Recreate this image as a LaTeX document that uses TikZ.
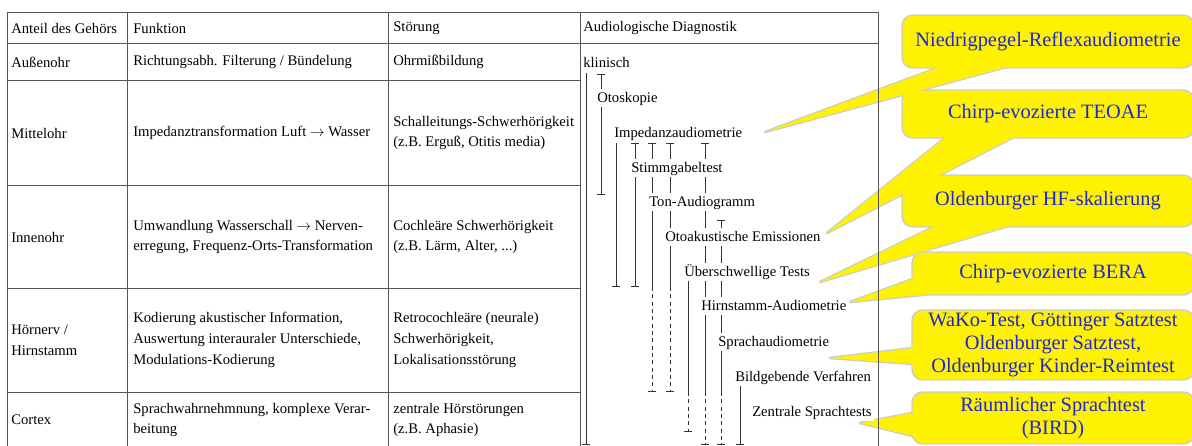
\documentclass[tikz,border=0pt]{standalone}
\usepackage{fontspec}
\setmainfont{Liberation Serif}
\usepackage{xcolor}
\usepackage{tikz}
\usetikzlibrary{positioning, arrows.meta, calc, backgrounds}

\definecolor{gridgray}{RGB}{85,85,85}
\definecolor{rimgray}{RGB}{205,205,205}
\definecolor{bubbleblue}{RGB}{30,40,205}

\begin{document}
\begin{tikzpicture}[
  x=0.75pt, y=-0.75pt,
  every node/.style={font=\fontsize{11}{15.5}\selectfont},
  cellt/.style={anchor=west, align=left, inner sep=0pt},
  diag/.style={anchor=west, fill=white, inner xsep=1.5pt, inner ysep=1.5pt,
               text height=8.5pt, text depth=2.5pt},
  gridline/.style={draw=gridgray, line width=0.7pt},
  durline/.style={draw=black!80, line width=0.6pt},
  dashdur/.style={durline, dash pattern=on 3pt off 2.5pt},
  topbar/.style={{Bar[width=5.5pt]}-},
  endbar/.style={-{Bar[width=5.5pt]}},
  bothbar/.style={{Bar[width=5.5pt]}-{Bar[width=5.5pt]}},
  bubble/.style={rectangle, rounded corners=8pt, fill=yellow, draw=rimgray,
                 line width=1.1pt, inner sep=0pt, align=center, text=bubbleblue,
                 font=\fontsize{15.3}{17}\selectfont},
  wedgerim/.style={fill=yellow, draw=rimgray, line width=2pt, line join=round},
  wedgefill/.style={fill=yellow}
]
\useasboundingbox (0,0) rectangle (1192,446);
% ── Table grid ─────────────────────────────────
\draw[gridline] (7,12) -- (878,12);
\draw[gridline] (7,43) -- (878,43);
\foreach \y in {80,185,288,392} \draw[gridline] (7,\y) -- (580,\y);
\foreach \x in {7,127,388,580} \draw[gridline] (\x,12) -- (\x,446);
% ── Header ─────────────────────────────────────
\node[cellt] (hpart) at (11,28) {Anteil des Gehörs};
\node[cellt] (hfunc) at (133,28) {Funktion};
\node[cellt] (hfail) at (393,28) {Störung};
\node[cellt] (hdiag) at (583,28) {Audiologische Diagnostik};
% ── Rows ───────────────────────────────────────
\node[cellt] (outer) at (11,62) {Außenohr};
\node[cellt] (outerf) at (133,62) {Richtungsabh. Filterung / Bündelung};
\node[cellt] (outers) at (393,62) {Ohrmißbildung};
\node[cellt] (middle) at (11,133) {Mittelohr};
\node[cellt] (middlef) at (133,133) {Impedanztransformation Luft $\rightarrow$ Wasser};
\node[cellt] (middles) at (393,133) {Schalleitungs-Schwerhörigkeit\\(z.B. Erguß, Otitis media)};
\node[cellt] (inner) at (11,237) {Innenohr};
\node[cellt] (innerf) at (133,237) {Umwandlung Wasserschall $\rightarrow$ Nerven-\\erregung, Frequenz-Orts-Transformation};
\node[cellt] (inners) at (393,237) {Cochleäre Schwerhörigkeit\\(z.B. Lärm, Alter, ...)};
\node[cellt] (nerve) at (11,340) {Hörnerv /\\Hirnstamm};
\node[cellt] (nervef) at (133,340) {Kodierung akustischer Information,\\Auswertung interauraler Unterschiede,\\Modulations-Kodierung};
\node[cellt] (nerves) at (393,340) {Retrocochleäre (neurale)\\Schwerhörigkeit,\\Lokalisationsstörung};
\node[cellt] (cortex) at (11,420) {Cortex};
\node[cellt] (cortexf) at (133,420) {Sprachwahrnehmnung, komplexe Verar-\\beitung};
\node[cellt] (cortexs) at (393,420) {zentrale Hörstörungen\\(z.B. Aphasie)};
% ── Duration bars ──────────────────────────────
\draw[durline, endbar] (586,73) -- (586,445);
\draw[durline, bothbar] (601,74) -- (601,195);
\draw[durline, endbar] (616,143) -- (616,287);
\draw[durline, bothbar] (635,143) -- (635,287);
\foreach \x/\ya/\yb/\yc in {652/143/287/392, 670/143/287/392,
                            705/143/392/445, 721/220/392/445} {
  \draw[durline, topbar] (\x,\ya) -- (\x,\yb);
  \draw[dashdur, endbar] (\x,\yb) -- (\x,\yc);
}
\draw[durline] (688,280) -- (688,392);
\draw[dashdur, endbar] (688,392) -- (688,432);
\draw[durline, endbar] (740,385) -- (740,445);
% ── Diagnostics ────────────────────────────────
\node[diag] (clin) at (581,63) {klinisch};
\node[diag] (oto) at (595,98) {Otoskopie};
\node[diag] (imp) at (612,133) {Impedanzaudiometrie};
\node[diag] (fork) at (629,168) {Stimmgabeltest};
\node[diag] (tone) at (647,202) {Ton-Audiogramm};
\node[diag] (oae) at (663,237) {Otoakustische Emissionen};
\node[diag] (supra) at (682,272) {Überschwellige Tests};
\node[diag] (abr) at (699,306) {Hirnstamm-Audiometrie};
\node[diag] (speech) at (716,342) {Sprachaudiometrie};
\node[diag] (imag) at (733,377) {Bildgebende Verfahren};
\node[diag] (central) at (750,412) {Zentrale Sprachtests};
% ── Callouts ───────────────────────────────────
\node[bubble, minimum width=219pt, minimum height=39.75pt] (reflex) at (1048,41.5) {Niedrigpegel-Reflexaudiometrie};
\node[bubble, minimum width=219pt, minimum height=36pt] (teoae) at (1048,114) {Chirp-evozierte TEOAE};
\node[bubble, minimum width=219pt, minimum height=39pt] (hfscale) at (1048,201) {Oldenburger HF-skalierung};
\node[bubble, minimum width=211.5pt, minimum height=32.25pt] (cbera) at (1053,273.5) {Chirp-evozierte BERA};
\node[bubble, minimum width=211.5pt, minimum height=52.5pt] (sentence) at (1053,345) {WaKo-Test, Göttinger Satztest\\Oldenburger Satztest,\\Oldenburger Kinder-Reimtest};
\node[bubble, minimum width=211.5pt, minimum height=39pt] (bird) at (1053,418) {Räumlicher Sprachtest\\(BIRD)};
\coordinate (imp-tip) at (765,132);
\coordinate (oae-tip) at (827,233);
\coordinate (supra-tip) at (820,282);
\coordinate (abr-tip) at (850,302);
\coordinate (speech-tip) at (830,358);
\coordinate (central-tip) at (860,423);
\begin{pgfonlayer}{background}
\foreach \n/\a/\b/\t in {reflex/{50,-6}/{121,-6}/imp-tip, teoae/{50,-6}/{121,-6}/oae-tip,
                         hfscale/{43,-6}/{121,-6}/supra-tip, cbera/{13,-21}/{13,-1}/abr-tip,
                         sentence/{13,-34}/{13,-16}/speech-tip, bird/{13,-34}/{13,-6}/central-tip}
  \draw[wedgerim] ($(\n.south west)+(\a)$) -- (\t) -- ($(\n.south west)+(\b)$) -- cycle;
\end{pgfonlayer}
\foreach \n/\a/\b/\t in {reflex/{50,-6}/{121,-6}/imp-tip, teoae/{50,-6}/{121,-6}/oae-tip,
                         hfscale/{43,-6}/{121,-6}/supra-tip, cbera/{13,-21}/{13,-1}/abr-tip,
                         sentence/{13,-34}/{13,-16}/speech-tip, bird/{13,-34}/{13,-6}/central-tip}
  \fill[wedgefill] ($(\n.south west)+(\a)$) -- (\t) -- ($(\n.south west)+(\b)$) -- cycle;
\draw[gridline] (878,12) -- (878,446);
\end{tikzpicture}
\end{document}
